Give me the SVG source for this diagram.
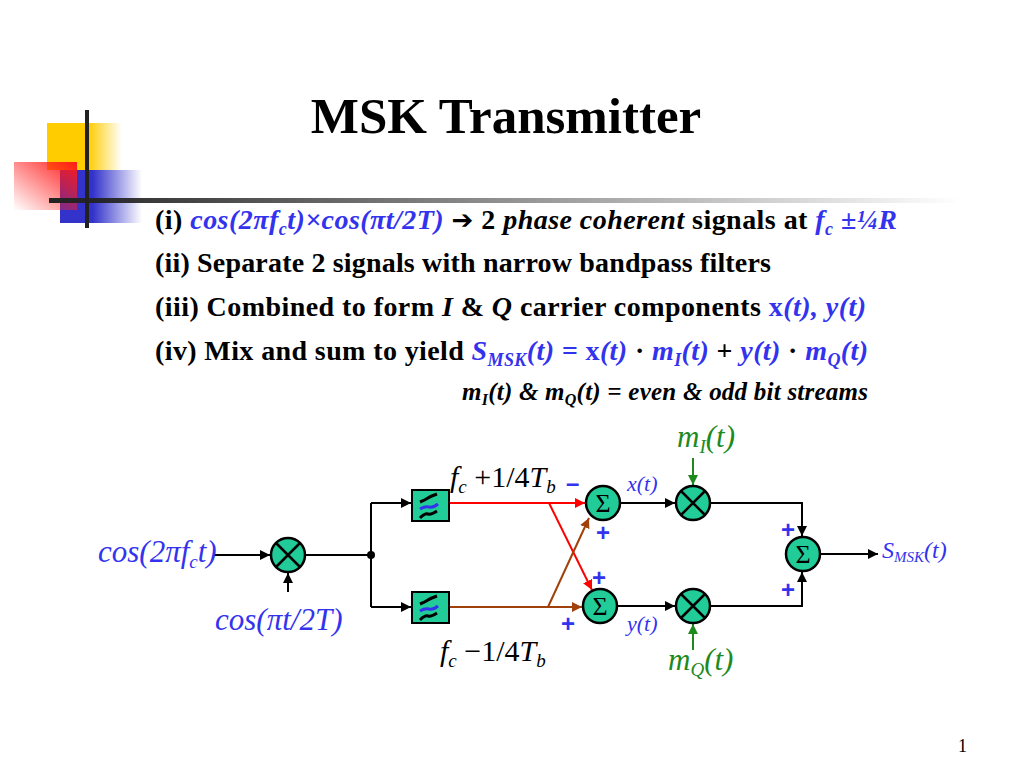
<svg xmlns="http://www.w3.org/2000/svg" width="1024" height="768" viewBox="0 0 1024 768">
<defs>
<linearGradient id="gY" x1="0" y1="0" x2="1" y2="0"><stop offset="0.55" stop-color="#FFCC00"/><stop offset="1" stop-color="#FFCC00" stop-opacity="0"/></linearGradient>
<linearGradient id="gB" x1="0" y1="0" x2="1" y2="0"><stop offset="0.4" stop-color="#3333CC"/><stop offset="1" stop-color="#3333CC" stop-opacity="0"/></linearGradient>
<linearGradient id="gR" x1="1" y1="0" x2="0" y2="1"><stop offset="0" stop-color="#FF1A1A"/><stop offset="1" stop-color="#FF1A1A" stop-opacity="0"/></linearGradient>
<linearGradient id="gL" x1="0" y1="0" x2="1" y2="0"><stop offset="0" stop-color="#222"/><stop offset="1" stop-color="#222" stop-opacity="0"/></linearGradient>
<marker id="aR" viewBox="0 0 10 10" refX="10" refY="5" markerWidth="10" markerHeight="10" orient="auto" markerUnits="userSpaceOnUse"><path d="M0,0 L10,5 L0,10 z" fill="#FF0000"/></marker>
<marker id="aN" viewBox="0 0 10 10" refX="10" refY="5" markerWidth="10" markerHeight="10" orient="auto" markerUnits="userSpaceOnUse"><path d="M0,0 L10,5 L0,10 z" fill="#A0400A"/></marker>
<marker id="aG" viewBox="0 0 10 10" refX="10" refY="5" markerWidth="10" markerHeight="10" orient="auto" markerUnits="userSpaceOnUse"><path d="M0,0 L10,5 L0,10 z" fill="#1E8A1E"/></marker>
<marker id="aB" viewBox="0 0 10 10" refX="10" refY="5" markerWidth="10" markerHeight="10" orient="auto" markerUnits="userSpaceOnUse"><path d="M0,0 L10,5 L0,10 z" fill="#000"/></marker>
</defs>
<style>
text{font-family:"Liberation Serif","Times New Roman",serif}
.b{font-weight:bold;fill:#000}
.bl{fill:#3333EE}
.it{font-style:italic}
.gr{fill:#1E8A1E}
.node{fill:#22CC99;stroke:#000;stroke-width:2.5}
.x{stroke:#000;stroke-width:2.5}
.c{fill:none;stroke:#000;stroke-width:2}
.plus{font-family:"Liberation Sans",Arial,sans-serif;font-weight:bold;fill:#3333EE;font-size:24px}
.sig{font-size:26px}
</style>
<rect width="1024" height="768" fill="#fff"/>
<g id="decor">
<rect x="47" y="123" width="75" height="47" fill="url(#gY)"/>
<rect x="60" y="170" width="82" height="53" fill="url(#gB)"/>
<rect x="14" y="162" width="63" height="48" fill="url(#gR)"/>
<rect x="49" y="198" width="911" height="5" fill="url(#gL)"/>
<rect x="85" y="110" width="4" height="118" fill="#222"/>
</g>
<g id="title"><text x="506" y="133" text-anchor="middle" class="b" font-size="51">MSK Transmitter</text></g>
<g id="bullets" font-size="28">
<text x="155" y="229" class="b" textLength="742" lengthAdjust="spacing">(i) <tspan class="bl it">cos(2πf<tspan font-size="18" dy="6">c</tspan><tspan dy="-6">t)×cos(πt/2T)</tspan></tspan> <tspan font-family="DejaVu Sans,sans-serif" font-size="26">➔</tspan> 2 <tspan class="it">phase coherent</tspan> signals at <tspan class="bl it">f<tspan font-size="18" dy="6">c</tspan><tspan dy="-6"> ±¼R</tspan></tspan></text>
<text x="155" y="272" class="b" textLength="616" lengthAdjust="spacing">(ii) Separate 2 signals with narrow bandpass filters</text>
<text x="155" y="316" class="b" textLength="711" lengthAdjust="spacing">(iii) Combined to form <tspan class="it">I</tspan> &amp; <tspan class="it">Q</tspan> carrier components <tspan class="bl">x<tspan class="it">(t), y(t)</tspan></tspan></text>
<text x="155" y="360" class="b" textLength="713" lengthAdjust="spacing">(iv) Mix and sum to yield <tspan class="bl it">S<tspan font-size="18" dy="6">MSK</tspan><tspan dy="-6">(t) = </tspan></tspan> <tspan class="bl">x<tspan class="it">(t)</tspan></tspan> · <tspan class="bl it">m<tspan font-size="18" dy="6">I</tspan><tspan dy="-6">(t)</tspan></tspan> + <tspan class="bl it">y(t)</tspan> · <tspan class="bl it">m<tspan font-size="18" dy="6">Q</tspan><tspan dy="-6">(t)</tspan></tspan></text>
<text x="462" y="400" class="b it" font-size="25" textLength="406" lengthAdjust="spacing">m<tspan font-size="16" dy="5">I</tspan><tspan dy="-5">(t) &amp; m</tspan><tspan font-size="16" dy="5">Q</tspan><tspan dy="-5">(t) = even &amp; odd bit streams</tspan></text>
</g>
<g id="connectors">
<line class="c" x1="213" y1="555" x2="270" y2="555" marker-end="url(#aB)"/>
<line class="c" x1="288" y1="592" x2="288" y2="573" marker-end="url(#aB)"/>
<polyline class="c" points="306,555 371,555"/>
<polyline class="c" points="371,503 371,607"/>
<line class="c" x1="371" y1="503" x2="411" y2="503" marker-end="url(#aB)"/>
<line class="c" x1="371" y1="607" x2="411" y2="607" marker-end="url(#aB)"/>
<line x1="449" y1="503" x2="585" y2="503" stroke="#FF0000" stroke-width="2" marker-end="url(#aR)"/>
<line x1="549" y1="503" x2="592" y2="590" stroke="#FF0000" stroke-width="2" marker-end="url(#aR)"/>
<line x1="449" y1="607" x2="582" y2="607" stroke="#A0400A" stroke-width="2" marker-end="url(#aN)"/>
<line x1="548" y1="607" x2="589" y2="518" stroke="#A0400A" stroke-width="2" marker-end="url(#aN)"/>
<line class="c" x1="620" y1="503" x2="675" y2="503" marker-end="url(#aB)"/>
<line class="c" x1="617" y1="606" x2="675" y2="606" marker-end="url(#aB)"/>
<line x1="693" y1="458" x2="693" y2="485" stroke="#1E8A1E" stroke-width="2" marker-end="url(#aG)"/>
<line x1="693" y1="650" x2="693" y2="624" stroke="#1E8A1E" stroke-width="2" marker-end="url(#aG)"/>
<polyline class="c" points="711,503 802,503 802,536" marker-end="url(#aB)"/>
<polyline class="c" points="711,606 802,606 802,572" marker-end="url(#aB)"/>
<line class="c" x1="821" y1="554" x2="878" y2="554" marker-end="url(#aB)"/>
<circle cx="371" cy="555" r="4" fill="#000"/>
</g>
<g id="mixer1"><circle class="node" cx="288" cy="555" r="17"/><path class="x" d="M276,543 L300,567 M300,543 L276,567"/></g>
<g id="filter1"><rect x="412" y="490" width="37" height="31" fill="#22CC99" stroke="#000" stroke-width="2"/>
<path d="M420,502 q5,-2 8,-4 t9,-4" fill="none" stroke="#000" stroke-width="3"/><path d="M420,509 q5,-3 9,-2 t9,-3" fill="none" stroke="#3333EE" stroke-width="3"/><path d="M420,518 q5,-5 8,-4 t9,-3" fill="none" stroke="#000" stroke-width="3"/></g>
<g id="filter2"><rect x="412" y="592" width="37" height="31" fill="#22CC99" stroke="#000" stroke-width="2"/>
<path d="M420,604 q5,-2 8,-4 t9,-4" fill="none" stroke="#000" stroke-width="3"/><path d="M420,611 q5,-3 9,-2 t9,-3" fill="none" stroke="#3333EE" stroke-width="3"/><path d="M420,620 q5,-5 8,-4 t9,-3" fill="none" stroke="#000" stroke-width="3"/></g>
<g id="sum1"><circle class="node" cx="603" cy="503" r="17"/><text x="603" y="512" text-anchor="middle" class="sig">Σ</text></g>
<g id="sum2"><circle class="node" cx="600" cy="606" r="17"/><text x="600" y="615" text-anchor="middle" class="sig">Σ</text></g>
<g id="mixerI"><circle class="node" cx="693" cy="503" r="17"/><path class="x" d="M681,491 L705,515 M705,491 L681,515"/></g>
<g id="mixerQ"><circle class="node" cx="693" cy="606" r="17"/><path class="x" d="M681,594 L705,618 M705,594 L681,618"/></g>
<g id="sum3"><circle class="node" cx="803" cy="554" r="17"/><text x="803" y="563" text-anchor="middle" class="sig">Σ</text></g>
<g id="labels">
<text x="98" y="562" class="bl it" font-size="31">cos(2πf<tspan font-size="19" dy="6">c</tspan><tspan dy="-6">t)</tspan></text>
<text x="215" y="630" class="bl it" font-size="31">cos(πt/2T)</text>
<text x="450" y="487" font-size="30"><tspan class="it">f</tspan><tspan class="it" font-size="19" dy="6">c</tspan><tspan dy="-6"> +1/4</tspan><tspan class="it">T</tspan><tspan class="it" font-size="19" dy="6">b</tspan></text>
<text x="440" y="661" font-size="30"><tspan class="it">f</tspan><tspan class="it" font-size="19" dy="6">c</tspan><tspan dy="-6"> −1/4</tspan><tspan class="it">T</tspan><tspan class="it" font-size="19" dy="6">b</tspan></text>
<text x="566" y="491" class="plus">–</text>
<text x="596" y="541" class="plus">+</text>
<text x="592" y="586" class="plus" font-size="28">+</text>
<text x="561" y="632" class="plus">+</text>
<text x="781" y="538" class="plus">+</text>
<text x="781" y="598" class="plus">+</text>
<text x="627" y="491" class="bl it" font-size="22">x(t)</text>
<text x="627" y="631" class="bl it" font-size="22">y(t)</text>
<text x="677" y="447" class="gr it" font-size="31">m<tspan font-size="19" dy="6">I</tspan><tspan dy="-6">(t)</tspan></text>
<text x="668" y="670" class="gr it" font-size="31">m<tspan font-size="19" dy="6">Q</tspan><tspan dy="-6">(t)</tspan></text>
<text x="882" y="558" class="bl it" font-size="24">S<tspan font-size="15" dy="4">MSK</tspan><tspan dy="-4">(t)</tspan></text>
</g>
<text x="958" y="752" font-size="18">1</text>
</svg>
